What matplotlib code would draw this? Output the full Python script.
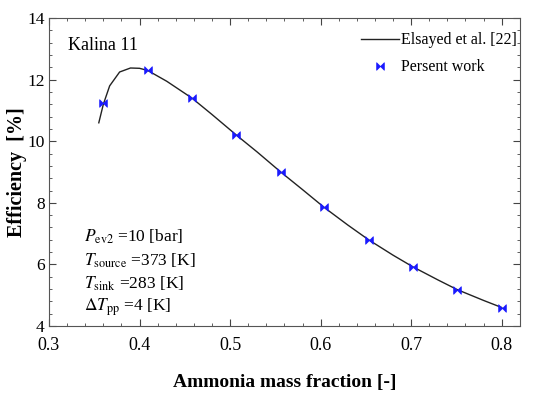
import numpy as np
import matplotlib
matplotlib.use('Agg')
import matplotlib.pyplot as plt
from matplotlib.path import Path
from matplotlib.ticker import MultipleLocator

plt.rcParams['font.family'] = ['Liberation Serif', 'DejaVu Serif']
plt.rcParams['mathtext.fontset'] = 'stix'

# Elsayed et al. [22] curve
ref_x = [0.355, 0.36, 0.367, 0.378, 0.39, 0.40, 0.409, 0.43, 0.458, 0.48, 0.507,
         0.53, 0.556, 0.58, 0.604, 0.63, 0.653, 0.68, 0.702, 0.73, 0.751, 0.78, 0.80]
ref_eff = [10.6, 11.2, 11.8, 12.25, 12.38, 12.37, 12.3, 11.95, 11.4, 10.87, 10.2,
           9.65, 9.0, 8.43, 7.85, 7.28, 6.8, 6.3, 5.92, 5.49, 5.18, 4.83, 4.6]

# Present work points
pw_x = [0.36, 0.409, 0.458, 0.507, 0.556, 0.604, 0.653, 0.702, 0.751, 0.80]
pw_eff = [11.25, 12.3, 11.4, 10.2, 9.0, 7.85, 6.8, 5.92, 5.18, 4.6]

# bowtie marker (horizontal)
bowtie = Path([(-1, -1), (-1, 1), (0, 0), (1, 1), (1, -1), (0, 0), (-1, -1)],
              [Path.MOVETO, Path.LINETO, Path.LINETO, Path.LINETO, Path.LINETO,
               Path.LINETO, Path.CLOSEPOLY])

fig = plt.figure(figsize=(5.53, 3.94), dpi=100)
ax = fig.add_axes([0.0886, 0.1726, 0.8514, 0.7814])

ax.plot(ref_x, ref_eff, color='#222222', lw=1.0, label='Elsayed et al. [22]')
ax.plot(pw_x, pw_eff, linestyle='none', marker=bowtie, markersize=5.5,
        color='#1a1aff', markeredgewidth=0.5, label='Persent work')

ax.set_xlim(0.3, 0.82)
ax.set_ylim(4, 14)
ax.xaxis.set_major_locator(MultipleLocator(0.1))
ax.xaxis.set_minor_locator(MultipleLocator(0.02))
ax.yaxis.set_major_locator(MultipleLocator(2))
ax.yaxis.set_minor_locator(MultipleLocator(0.4))
ax.set_xticks([0.3, 0.4, 0.5, 0.6, 0.7, 0.8])
ax.set_xticklabels(['0.3', '0.4', '0.5', '0.6', '0.7', '0.8'])
ax.tick_params(which='both', direction='in', top=True, right=True,
               color='#444444')
ax.tick_params(which='major', length=5)
ax.tick_params(which='minor', length=2.5)
ax.tick_params(axis='x', pad=8, labelsize=13)
ax.tick_params(axis='y', pad=3, labelsize=12.5)
for s in ax.spines.values():
    s.set_color('#555555')

ax.set_xlabel('Ammonia mass fraction [-]', fontsize=14, fontweight='bold', labelpad=14)
ax.set_ylabel('Efficiency  [%]', fontsize=14.5, fontweight='bold', labelpad=0)

ax.legend(loc='upper right', bbox_to_anchor=(1.0, 0.965), frameon=False,
          fontsize=11.5, handlelength=2.4, borderaxespad=0, borderpad=0.2,
          handletextpad=0.1, labelspacing=0.7)

ax.text(0.04, 0.91, 'Kalina 11', transform=ax.transAxes, fontsize=13, va='center')

notes = [r'$P_{\rm ev2}$ =10 [bar]', r'$T_{\rm source}$ =373 [K]',
         r'$T_{\rm sink}$ =283 [K]', r'$\Delta T_{\rm pp}$ =4 [K]']
for i, t in enumerate(notes):
    ax.text(0.075, 0.289 - i * 0.0757, t, transform=ax.transAxes, fontsize=12.5,
            va='center')

fig.savefig('out.png', dpi=100)
